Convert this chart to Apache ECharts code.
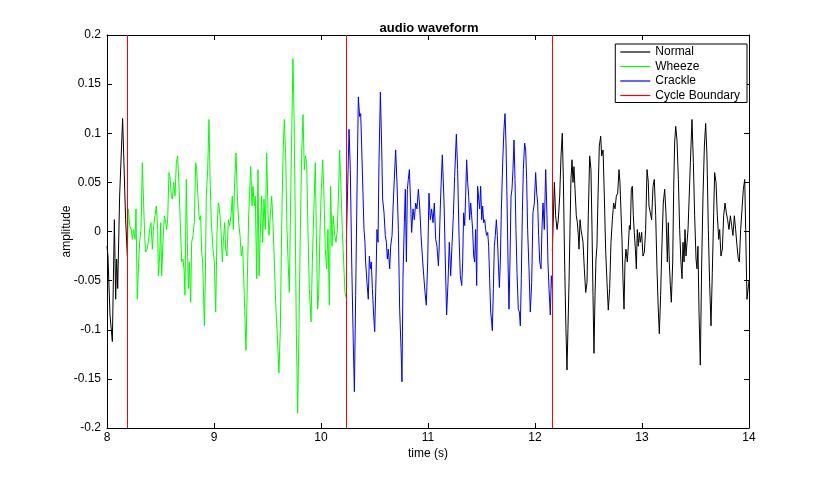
<!DOCTYPE html>
<html><head><meta charset="utf-8">
<script src="https://cdn.jsdelivr.net/npm/echarts@6/dist/echarts.min.js"></script>
<style>html,body{margin:0;padding:0;background:#fff}#c{width:827px;height:481px}</style>
</head><body><div id="c"></div>
<script>
const FONT = '"Liberation Sans", Arial, Helvetica, sans-serif';
const chartTitle = 'audio waveform';
const xName = 'time (s)';
const yName = 'amplitude';
const xTicks = [8, 9, 10, 11, 12, 13, 14];
const yTicks = [-0.2, -0.15, -0.1, -0.05, 0, 0.05, 0.1, 0.15, 0.2];
const cycleBoundaries = [8.19, 10.237, 12.162];

const normalStartTime = [8.000, 8.009, 8.028, 8.050, 8.069, 8.081, 8.090, 8.100, 8.118, 8.146, 8.174, 8.190];
const normalStartAmp  = [-0.015, -0.025, -0.085, -0.112, 0.012, -0.069, -0.028, -0.058, 0.036, 0.115, 0.012, -0.025];

const wheezeTime = [8.190,8.199,8.212,8.227,8.237,8.249,8.262,8.271,8.283,8.296,8.305,8.318,8.330,8.340,8.352,8.361,8.374,8.386,8.399,8.411,8.424,8.436,8.449,8.461,8.474,8.480,8.492,8.502,8.511,8.523,8.536,8.548,8.558,8.567,8.579,8.589,8.601,8.611,8.623,8.636,8.648,8.660,8.673,8.685,8.698,8.710,8.720,8.729,8.741,8.751,8.760,8.769,8.782,8.791,8.804,8.816,8.829,8.838,8.850,8.860,8.866,8.875,8.885,8.894,8.910,8.919,8.928,8.941,8.953,8.963,8.975,8.991,9.003,9.016,9.028,9.040,9.047,9.056,9.065,9.078,9.087,9.100,9.109,9.121,9.134,9.146,9.159,9.171,9.181,9.193,9.206,9.218,9.231,9.243,9.255,9.268,9.283,9.299,9.312,9.324,9.343,9.355,9.364,9.377,9.386,9.399,9.411,9.421,9.433,9.445,9.455,9.467,9.480,9.492,9.505,9.514,9.526,9.539,9.551,9.564,9.576,9.592,9.607,9.620,9.632,9.645,9.657,9.670,9.682,9.695,9.704,9.717,9.729,9.738,9.748,9.757,9.769,9.782,9.794,9.807,9.819,9.832,9.844,9.854,9.866,9.879,9.891,9.907,9.919,9.931,9.947,9.956,9.969,9.978,9.991,10.003,10.016,10.028,10.040,10.053,10.065,10.078,10.090,10.103,10.115,10.128,10.140,10.153,10.165,10.174,10.187,10.199,10.212,10.224,10.237];
const wheezeAmp = [-0.025,0.023,0.006,0.002,-0.008,0.002,-0.008,0.023,-0.069,-0.031,-0.011,0.002,0.070,0.070,-0.004,-0.021,-0.018,-0.011,0.002,0.009,-0.018,0.006,0.016,0.026,0.002,-0.045,-0.025,0.009,-0.045,-0.011,0.016,0.009,0.002,0.012,0.060,0.056,0.036,0.033,0.050,0.036,0.070,0.077,0.046,0.009,-0.031,-0.028,-0.038,-0.065,0.053,-0.011,-0.058,-0.031,-0.072,-0.011,-0.004,0.009,0.070,0.063,0.036,0.016,0.012,0.016,-0.021,-0.031,-0.096,-0.048,0.036,0.063,0.114,0.056,0.009,-0.018,-0.031,-0.082,-0.001,0.029,0.026,0.016,0.002,-0.031,-0.011,0.009,-0.018,-0.025,0.012,0.006,0.016,0.036,0.002,0.050,0.080,0.036,0.009,-0.004,-0.025,-0.015,-0.065,-0.121,-0.048,0.016,0.066,0.026,0.046,0.026,0.036,-0.048,0.063,-0.045,-0.001,0.036,-0.011,0.033,0.002,0.080,0.019,-0.004,0.016,0.036,0.009,-0.031,-0.072,-0.106,-0.144,-0.099,0.002,0.077,0.114,0.077,0.002,-0.038,-0.062,0.036,0.117,0.176,0.120,0.036,-0.099,-0.185,-0.099,0.002,0.077,0.119,0.063,0.077,0.070,-0.004,-0.058,-0.092,-0.031,0.016,0.070,0.002,-0.079,-0.065,0.002,0.043,0.073,0.036,-0.018,-0.038,0.002,-0.075,0.046,-0.015,0.016,-0.004,-0.011,0.002,0.043,0.083,0.043,0.002,-0.031,-0.062,-0.068];

const crackleTime = [10.237,10.262,10.274,10.287,10.299,10.312,10.324,10.336,10.349,10.361,10.371,10.380,10.393,10.402,10.411,10.417,10.430,10.442,10.452,10.461,10.470,10.480,10.492,10.502,10.514,10.523,10.533,10.542,10.555,10.567,10.576,10.589,10.601,10.611,10.620,10.629,10.642,10.651,10.664,10.673,10.685,10.698,10.710,10.723,10.735,10.748,10.757,10.766,10.779,10.788,10.798,10.807,10.816,10.826,10.835,10.847,10.860,10.872,10.885,10.897,10.910,10.922,10.935,10.947,10.960,10.972,10.984,10.997,11.009,11.022,11.034,11.047,11.059,11.072,11.084,11.097,11.103,11.118,11.134,11.150,11.162,11.174,11.187,11.199,11.212,11.224,11.237,11.249,11.265,11.277,11.290,11.302,11.315,11.324,11.333,11.343,11.352,11.361,11.371,11.380,11.389,11.399,11.408,11.417,11.427,11.436,11.445,11.455,11.464,11.474,11.483,11.492,11.502,11.511,11.520,11.530,11.539,11.548,11.558,11.567,11.576,11.586,11.595,11.601,11.611,11.620,11.629,11.639,11.648,11.657,11.667,11.676,11.685,11.698,11.710,11.720,11.729,11.738,11.748,11.757,11.766,11.776,11.785,11.794,11.804,11.813,11.822,11.832,11.844,11.854,11.863,11.872,11.882,11.891,11.903,11.913,11.922,11.931,11.944,11.956,11.969,11.981,11.994,12.006,12.016,12.025,12.034,12.044,12.056,12.065,12.075,12.087,12.100,12.112,12.121,12.131,12.143,12.153,12.162];
const crackleAmp = [-0.011,0.104,0.063,-0.031,-0.099,-0.163,-0.065,0.036,0.137,0.117,0.120,0.087,0.036,0.002,-0.011,-0.031,-0.052,-0.069,-0.025,-0.038,-0.031,-0.058,-0.085,-0.102,-0.048,0.002,-0.011,0.070,0.142,0.087,0.033,0.019,-0.004,-0.011,-0.028,-0.018,-0.038,-0.015,-0.004,0.023,0.053,0.083,0.050,0.002,-0.079,-0.119,-0.153,-0.048,0.009,0.043,-0.031,0.043,0.053,0.063,0.036,-0.001,0.023,0.012,0.029,0.023,0.043,0.026,-0.004,-0.025,-0.045,-0.062,-0.075,-0.031,0.039,0.012,0.023,0.009,0.029,-0.008,-0.015,-0.035,-0.021,0.036,0.078,0.029,-0.031,-0.085,-0.052,-0.011,-0.045,-0.015,0.016,0.056,0.099,0.063,-0.004,-0.045,-0.055,-0.031,0.019,0.006,0.036,0.073,0.050,0.036,0.012,0.029,0.016,0.002,-0.025,-0.031,0.002,-0.055,0.046,0.033,0.023,0.046,0.012,0.026,0.009,0.012,0.002,-0.004,-0.001,-0.015,-0.048,-0.082,-0.092,-0.101,-0.058,-0.015,-0.004,0.012,-0.004,-0.031,-0.057,-0.031,0.019,0.070,0.104,0.120,0.090,0.036,-0.031,-0.079,-0.031,0.036,0.043,0.063,0.093,0.053,0.002,-0.042,-0.079,-0.082,-0.096,-0.048,0.019,0.063,0.090,0.083,0.053,0.002,-0.038,-0.082,-0.052,0.019,0.029,0.060,0.039,0.029,-0.004,-0.031,-0.038,0.002,0.029,0.002,0.063,0.016,-0.031,-0.058,-0.085,-0.045,-0.058];

const normalEndTime = [12.162,12.181,12.193,12.206,12.218,12.231,12.243,12.255,12.265,12.277,12.287,12.299,12.308,12.318,12.327,12.336,12.346,12.355,12.364,12.374,12.386,12.396,12.405,12.411,12.421,12.430,12.439,12.449,12.461,12.474,12.486,12.498,12.511,12.523,12.533,12.542,12.551,12.561,12.570,12.579,12.589,12.601,12.614,12.623,12.636,12.648,12.660,12.673,12.685,12.698,12.710,12.723,12.735,12.748,12.760,12.773,12.785,12.794,12.804,12.813,12.822,12.832,12.841,12.850,12.863,12.872,12.882,12.891,12.900,12.910,12.919,12.928,12.938,12.947,12.956,12.966,12.975,12.984,12.997,13.009,13.022,13.034,13.047,13.059,13.065,13.078,13.090,13.103,13.115,13.128,13.140,13.153,13.162,13.174,13.187,13.199,13.212,13.224,13.237,13.246,13.255,13.265,13.274,13.287,13.296,13.305,13.315,13.327,13.340,13.352,13.364,13.374,13.383,13.393,13.402,13.411,13.421,13.430,13.439,13.452,13.467,13.480,13.492,13.505,13.514,13.523,13.533,13.545,13.558,13.570,13.583,13.595,13.607,13.620,13.632,13.645,13.657,13.670,13.679,13.692,13.704,13.717,13.726,13.738,13.751,13.763,13.776,13.788,13.800,13.813,13.826,13.838,13.850,13.863,13.875,13.888,13.900,13.910,13.922,13.935,13.947,13.960,13.969,13.981,14.000];
const normalEndAmp = [-0.020,0.050,0.016,0.002,0.012,0.036,0.077,0.100,0.053,-0.031,-0.089,-0.141,-0.099,-0.052,0.002,0.053,0.073,0.050,0.066,0.043,0.016,0.009,-0.004,-0.018,0.012,0.002,-0.004,-0.011,-0.038,-0.062,-0.052,0.016,0.077,0.063,0.002,-0.065,-0.124,-0.065,-0.028,-0.015,0.036,0.087,0.097,0.077,0.083,0.036,-0.018,-0.052,-0.080,-0.058,-0.011,0.012,0.029,0.023,0.036,0.039,0.063,0.050,0.019,-0.008,-0.048,-0.079,-0.031,-0.018,-0.031,-0.015,0.006,0.002,0.043,0.046,0.016,-0.001,-0.018,-0.038,0.002,-0.015,-0.001,-0.011,-0.001,-0.025,-0.021,0.002,0.063,0.050,0.026,0.019,0.012,0.046,0.053,0.016,-0.038,-0.082,-0.104,-0.065,-0.011,0.029,0.043,0.019,-0.031,0.009,-0.031,-0.055,-0.072,-0.031,0.043,0.090,0.107,0.093,0.053,0.002,-0.031,-0.048,-0.011,-0.031,0.002,-0.025,-0.011,0.002,0.029,0.070,0.114,0.070,0.016,-0.028,-0.038,-0.015,-0.082,-0.136,-0.031,0.036,0.087,0.110,0.077,0.002,-0.052,-0.096,-0.042,0.019,0.060,0.050,0.016,-0.008,0.002,-0.025,-0.018,0.016,0.029,0.019,0.012,0.002,0.016,0.006,-0.004,0.016,0.002,-0.015,-0.028,-0.031,0.002,0.023,0.043,0.053,0.002,-0.069,-0.050];

function zip(t, a) { return t.map((v, i) => [v, a[i]]); }

const chart = echarts.init(document.getElementById('c'), null, {renderer: 'canvas'});
const textBase = {fontFamily: FONT, color: '#000', fontSize: 12};
const lineSeries = (name, color, t, a) => ({
  name, type: 'line', data: zip(t, a), showSymbol: false, symbol: 'none',
  lineStyle: {color, width: 1}, itemStyle: {color}, animation: false, silent: true
});
const tickStyle = {inside: true, length: 5, lineStyle: {color: '#000'}};
const lineStyleAxis = {show: true, onZero: false, lineStyle: {color: '#000', width: 1}};

chart.setOption({
  backgroundColor: '#fff',
  animation: false,
  title: {text: chartTitle, left: 424, top: 17, textAlign: 'center',
    textStyle: Object.assign({}, textBase, {fontWeight: 'bold', fontSize: 13})},
  grid: {left: 107, right: 78, top: 35, bottom: 53, containLabel: false},
  legend: {
    data: ['Normal', 'Wheeze', 'Crackle', 'Cycle Boundary'],
    orient: 'vertical', right: 80, top: 44,
    icon: 'rect', itemWidth: 30, itemHeight: 1.2, itemGap: 2.5,
    backgroundColor: '#fff', borderColor: '#000', borderWidth: 1,
    padding: [2, 7, 1, 5], borderRadius: 0,
    textStyle: Object.assign({}, textBase, {fontSize: 12, lineHeight: 12})
  },
  xAxis: [{
    type: 'value', min: xTicks[0], max: xTicks[xTicks.length - 1], interval: 1,
    name: xName, nameLocation: 'middle', nameGap: 20, nameTextStyle: textBase,
    nameMoveOverlap: false,
    axisLine: lineStyleAxis, axisTick: tickStyle,
    axisLabel: Object.assign({}, textBase, {margin: 4}),
    splitLine: {show: false}
  }, {
    type: 'value', position: 'top', min: xTicks[0], max: xTicks[xTicks.length - 1], interval: 1,
    axisLine: lineStyleAxis, axisTick: tickStyle,
    axisLabel: {show: false}, splitLine: {show: false}
  }],
  yAxis: [{
    type: 'value', min: yTicks[0], max: yTicks[yTicks.length - 1], interval: 0.05,
    name: yName, nameLocation: 'middle', nameGap: 34, nameTextStyle: textBase,
    nameMoveOverlap: false,
    axisLine: lineStyleAxis, axisTick: Object.assign({show: true}, tickStyle),
    axisLabel: Object.assign({}, textBase, {margin: 6}),
    splitLine: {show: false}
  }, {
    type: 'value', position: 'right', min: yTicks[0], max: yTicks[yTicks.length - 1], interval: 0.05,
    axisLine: lineStyleAxis, axisTick: Object.assign({show: true}, tickStyle),
    axisLabel: {show: false}, splitLine: {show: false}
  }],
  series: [
    lineSeries('Normal', '#000000', normalStartTime, normalStartAmp),
    lineSeries('Wheeze', '#00ff00', wheezeTime, wheezeAmp),
    lineSeries('Crackle', '#0000ff', crackleTime, crackleAmp),
    lineSeries('Normal', '#000000', normalEndTime, normalEndAmp),
    {
      name: 'Cycle Boundary', type: 'line', data: [], itemStyle: {color: '#ff0000'},
      lineStyle: {color: '#ff0000'}, silent: true,
      markLine: {
        symbol: 'none', silent: true, animation: false,
        label: {show: false},
        lineStyle: {color: '#ff0000', type: 'solid', width: 1},
        data: cycleBoundaries.map(x => ({xAxis: x}))
      }
    }
  ]
});
</script></body></html>
